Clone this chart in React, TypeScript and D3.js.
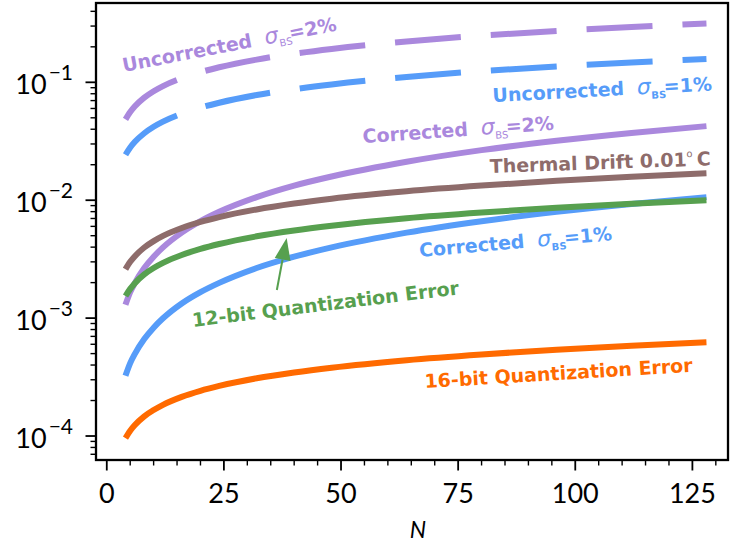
import React from 'react';
import * as d3 from 'd3';

const Ns = [4, 5, 6, 8, 10, 12, 16, 20, 24, 32, 40, 48, 64, 80, 96, 112, 128];
const uncorrected2 = [0.0485, 0.056, 0.0626, 0.0741, 0.084, 0.0929, 0.1084, 0.122, 0.1343, 0.1559, 0.1749, 0.192, 0.2222, 0.2489, 0.2729, 0.295, 0.3155];
const uncorrected1 = [0.0243, 0.028, 0.0313, 0.037, 0.042, 0.0464, 0.0542, 0.061, 0.0671, 0.078, 0.0874, 0.096, 0.1111, 0.1244, 0.1365, 0.1475, 0.1578];
const corrected2 = [1.3e-3, 1.66e-3, 1.99e-3, 2.66e-3, 3.32e-3, 3.98e-3, 5.31e-3, 6.64e-3, 7.97e-3, 1.062e-2, 1.33e-2, 1.59e-2, 2.12e-2, 2.66e-2, 3.19e-2, 3.72e-2, 4.25e-2];
const corrected1 = [3.25e-4, 4.15e-4, 4.98e-4, 6.64e-4, 8.3e-4, 9.96e-4, 1.33e-3, 1.66e-3, 1.99e-3, 2.66e-3, 3.32e-3, 3.98e-3, 5.31e-3, 6.64e-3, 7.97e-3, 9.3e-3, 1.062e-2];
const thermal = [2.6e-3, 3.0e-3, 3.35e-3, 3.97e-3, 4.5e-3, 4.98e-3, 5.81e-3, 6.54e-3, 7.19e-3, 8.35e-3, 9.37e-3, 1.03e-2, 1.19e-2, 1.33e-2, 1.46e-2, 1.58e-2, 1.69e-2];
const quant12 = [1.54e-3, 1.77e-3, 1.98e-3, 2.35e-3, 2.66e-3, 2.94e-3, 3.43e-3, 3.86e-3, 4.25e-3, 4.94e-3, 5.54e-3, 6.08e-3, 7.04e-3, 7.87e-3, 8.64e-3, 9.34e-3, 9.99e-3];
const quant16 = [9.6e-5, 1.11e-4, 1.24e-4, 1.47e-4, 1.66e-4, 1.84e-4, 2.15e-4, 2.42e-4, 2.66e-4, 3.09e-4, 3.46e-4, 3.8e-4, 4.4e-4, 4.92e-4, 5.4e-4, 5.84e-4, 6.24e-4];

const xTicks = [0, 25, 50, 75, 100, 125];
const yTicks = [1e-4, 1e-3, 1e-2, 1e-1];
const yTickExps = ['−4', '−3', '−2', '−1'];

// label anchors in data coordinates [N, value], rotation in degrees
const labelN = [3.6, 82.4, 54.7, 81.8, 66.8, 18.4, 67.9];
const labelV = [0.1223, 0.0681, 0.0305, 0.017, 0.0033, 8.41e-4, 2.55e-4];
const labelRot = [-11, -3, -4, -2, -5, -7, -3.5];
const arrowFrom = [36.3, 1.733e-3];
const arrowTo = [38.4, 4.79e-3];

const PURPLE = '#aa88dd';
const BLUE = '#569cf9';
const GREEN = '#57a04f';
const BROWN = '#8e6c6b';
const ORANGE = '#ff6a00';

const W = 730, H = 546;
const L = 96, R = 728, T = 3, B = 460;

export default function App() {
  const x = d3.scaleLinear().domain([-2.3, 132.6]).range([L, R]);
  const y = d3.scaleLog().domain([6.26e-5, 0.4707]).range([B, T]);
  const line = (vals: number[]) =>
    d3.line<number>().x((_, i) => x(Ns[i])).y((v) => y(v)).curve(d3.curveMonotoneX)(vals) || '';

  const series = [
    { v: uncorrected2, c: PURPLE, dash: '66 30' },
    { v: uncorrected1, c: BLUE, dash: '66 30' },
    { v: corrected2, c: PURPLE, dash: undefined },
    { v: corrected1, c: BLUE, dash: undefined },
    { v: thermal, c: BROWN, dash: undefined },
    { v: quant12, c: GREEN, dash: undefined },
    { v: quant16, c: ORANGE, dash: undefined },
  ];

  const xMinor: number[] = [];
  for (let v = 0; v <= 130; v += 5) if (v % 25 !== 0) xMinor.push(v);
  const yMinor: number[] = [];
  for (let e = -5; e <= 0; e++)
    for (let m = 2; m <= 9; m++) {
      const v = m * Math.pow(10, e);
      if (v >= 6.26e-5 && v <= 0.4707) yMinor.push(v);
    }

  const font = "Lato, 'DejaVu Sans', sans-serif";
  const lfont = "'DejaVu Sans', sans-serif";
  const fs = 19;

  const sigma = (pct: string, boldSub: boolean) => [
    <tspan key="s" dx={13} fontStyle="italic" fontWeight="normal" fontSize={22}>σ</tspan>,
    <tspan key="b" fontSize={10} dy={5} fontWeight={boldSub ? 'bold' : 'normal'}>BS</tspan>,
    <tspan key="e" dy={-5} dx={-2}>={pct}</tspan>,
  ];

  const labels = [
    { c: PURPLE, content: [<tspan key="t">Uncorrected</tspan>, ...sigma('2%', false)] },
    { c: BLUE, content: [<tspan key="t">Uncorrected</tspan>, ...sigma('1%', true)] },
    { c: PURPLE, content: [<tspan key="t">Corrected</tspan>, ...sigma('2%', false)] },
    {
      c: BROWN,
      content: [
        <tspan key="t">Thermal Drift 0.01</tspan>,
        <tspan key="o" fontSize={10} dy={-9} fontWeight="normal">o</tspan>,
        <tspan key="c" dy={9} dx={4}>C</tspan>,
      ],
    },
    { c: BLUE, content: [<tspan key="t">Corrected</tspan>, ...sigma('1%', true)] },
    { c: GREEN, content: [<tspan key="t">12-bit Quantization Error</tspan>] },
    { c: ORANGE, content: [<tspan key="t">16-bit Quantization Error</tspan>] },
  ];

  // arrow geometry
  const ax0 = x(arrowFrom[0]), ay0 = y(arrowFrom[1]);
  const ax1 = x(arrowTo[0]), ay1 = y(arrowTo[1]);
  const ang = Math.atan2(ay1 - ay0, ax1 - ax0);
  const headLen = 22, headW = 8;
  const bx = ax1 - headLen * Math.cos(ang), by = ay1 - headLen * Math.sin(ang);
  const px = -Math.sin(ang) * headW, py = Math.cos(ang) * headW;

  return (
    <svg width={W} height={H} style={{ position: 'absolute', left: 0, top: 0, background: '#fff' }}>
      <rect x={0} y={0} width={W} height={H} fill="#fff" />
      <defs>
        <clipPath id="plot">
          <rect x={L} y={T} width={R - L} height={B - T} />
        </clipPath>
      </defs>
      <g clipPath="url(#plot)">
        {series.map((s, i) => (
          <path key={i} d={line(s.v)} fill="none" stroke={s.c} strokeWidth={6}
            strokeDasharray={s.dash} strokeLinecap="butt" />
        ))}
      </g>
      {/* arrow */}
      <line x1={ax0} y1={ay0} x2={bx} y2={by} stroke={GREEN} strokeWidth={2} />
      <path d={`M${ax1},${ay1} L${bx + px},${by + py} L${bx - px},${by - py} Z`} fill={GREEN} />
      {/* labels */}
      {labels.map((lb, i) => (
        <text key={i} transform={`translate(${x(labelN[i])},${y(labelV[i])}) rotate(${labelRot[i]})`}
          fill={lb.c} fontFamily={lfont} fontSize={fs} fontWeight="bold">
          {lb.content}
        </text>
      ))}
      {/* axes frame */}
      <rect x={L} y={T} width={R - L} height={B - T} fill="none" stroke="#000" strokeWidth={2.3} />
      {/* x ticks */}
      {xTicks.map((t) => (
        <g key={'xt' + t}>
          <line x1={x(t)} x2={x(t)} y1={B} y2={B + 10.5} stroke="#000" strokeWidth={1.8} />
          <text x={x(t)} y={503} textAnchor="middle" fontFamily={font} fontSize={27}>{t}</text>
        </g>
      ))}
      {xMinor.map((t) => (
        <line key={'xm' + t} x1={x(t)} x2={x(t)} y1={B} y2={B + 5.5} stroke="#000" strokeWidth={1.4} />
      ))}
      {/* y ticks */}
      {yTicks.map((t, i) => (
        <g key={'yt' + i}>
          <line x1={L - 10.5} x2={L} y1={y(t)} y2={y(t)} stroke="#000" strokeWidth={1.8} />
          <text x={73} y={y(t) + 11.7} textAnchor="end" fontFamily={font} fontSize={27}>
            <tspan>10</tspan>
            <tspan dy={-14} dx={2} fontSize={21}>{yTickExps[i]}</tspan>
          </text>
        </g>
      ))}
      {yMinor.map((t, i) => (
        <line key={'ym' + i} x1={L - 5.5} x2={L} y1={y(t)} y2={y(t)} stroke="#000" strokeWidth={1.4} />
      ))}
      <text x={418} y={538} textAnchor="middle" fontFamily={font} fontSize={23} fontStyle="italic">N</text>
    </svg>
  );
}
